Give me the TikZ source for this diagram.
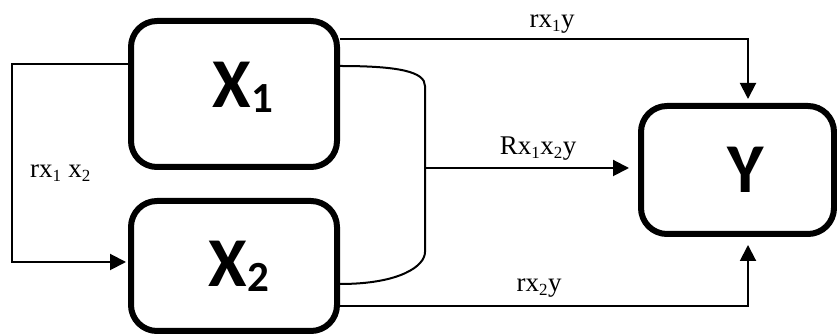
\documentclass[tikz,border=0pt]{standalone}
\usepackage{fontspec}
\setmainfont{Liberation Serif}
\newfontfamily\boxfont{Carlito}
\usetikzlibrary{arrows.meta}
\tikzset{
  bigbox/.style={draw, line width=6pt, rounded corners=26pt, inner sep=0pt,
    font=\boxfont\bfseries\fontsize{70}{70}\selectfont},
  conn/.style={line width=2pt},
  arr/.style={conn, -{Triangle[length=16pt,width=16pt]}},
  lbl/.style={font=\fontsize{27}{27}\selectfont, anchor=base, inner sep=0pt}
}
\newcommand{\subdig}[1]{\raisebox{-5pt}{\fontsize{43}{43}\selectfont #1}}
\newcommand{\sbs}[1]{\textsubscript{\fontsize{17}{17}\selectfont #1}}
\begin{document}
\begin{tikzpicture}[x=1pt,y=1pt]
\useasboundingbox (0,0) rectangle (837,336);
% boxes
\node[bigbox, minimum width=206pt, minimum height=146pt] (X1) at (234,242) {\hspace*{18pt}\raisebox{7pt}[\height][\depth]{X\subdig{1}}};
\node[bigbox, minimum width=206pt, minimum height=130pt] (X2) at (234,70) {\hspace*{10pt}X\subdig{2}};
\node[bigbox, minimum width=193pt, minimum height=128pt] (Y) at (737.5,166) {\hspace*{16pt}Y};
% coordinates
\coordinate (c1) at ([yshift=28pt]X1.east);
\coordinate (c2) at ([yshift=-18pt]X2.east);
\coordinate (mid) at (425,168);
\coordinate (ytop) at ([xshift=10.5pt]Y.north);
\coordinate (ybot) at ([xshift=10.5pt]Y.south);
% top connector
\draw[arr, shorten >=4pt] ([yshift=55pt]X1.east) -| (ytop);
% bottom connector
\draw[arr, shorten >=8pt] ([yshift=-40pt]X2.east) -| (ybot);
% bracket curve
\draw[conn] (c1) .. controls (400,270) and (425,264) .. (425,250) -- (425,84) .. controls (425,70) and (400,52) .. (c2);
% middle arrow
\draw[arr, shorten >=9pt] (mid) -- (Y.west |- mid);
% left feedback
\draw[arr, shorten >=2pt] ([yshift=30pt]X1.west) -| (12,74) -- (X2.west |- 0,74);
% labels
\node[lbl] (l1) at (552,308) {rx\sbs{1}y};
\node[lbl] (l2) at (538,181) {Rx\sbs{1}x\sbs{2}y};
\node[lbl] (l3) at (539,44) {rx\sbs{2}y};
\node[lbl, anchor=base west] (l4) at (30,158) {rx\sbs{1} x\sbs{2}};
\end{tikzpicture}
\end{document}
